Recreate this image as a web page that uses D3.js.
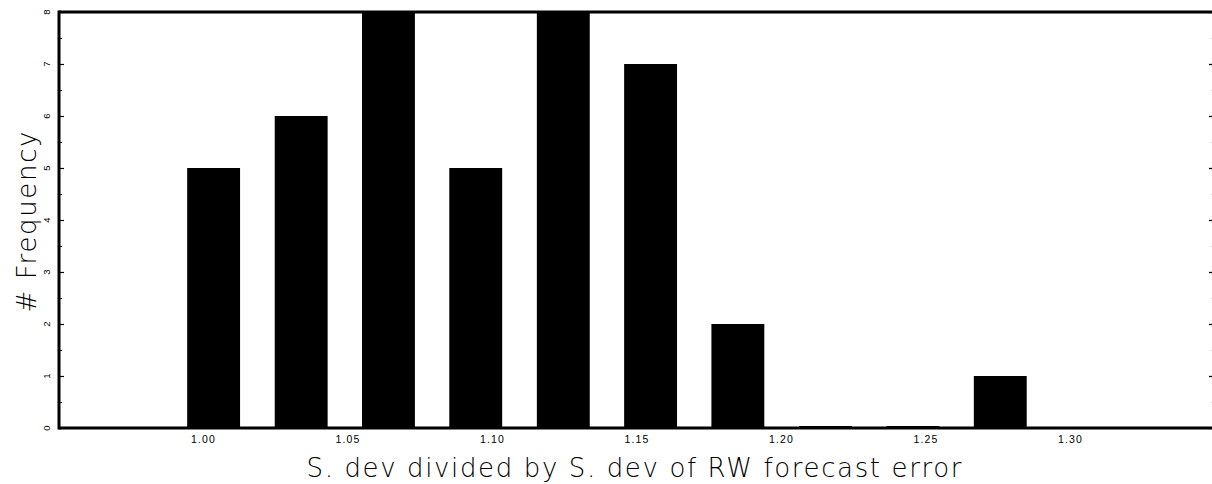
<!DOCTYPE html>
<html>
<head>
<meta charset="utf-8">
<script src="https://cdn.jsdelivr.net/npm/d3@7"></script>
<style>
  html, body { margin: 0; padding: 0; background: #fff; }
  svg { display: block; }
</style>
</head>
<body>
<svg id="chart" width="1212" height="484"></svg>
<script>
// Histogram of the ratio of standard deviations
const binCenters = [1.0035, 1.0338, 1.0640, 1.0942, 1.1245, 1.1547, 1.1849, 1.2152, 1.2455, 1.2757];
const counts     = [5, 6, 8, 5, 8, 7, 2, 0, 0, 1];
const xTickValues = [1.00, 1.05, 1.10, 1.15, 1.20, 1.25, 1.30];
const yTickValues = [0, 1, 2, 3, 4, 5, 6, 7, 8];
const xTitle = "S. dev divided by S. dev of RW forecast error";
const yTitle = "# Frequency";

const svg = d3.select("#chart");
const plot = { left: 59, right: 1215, top: 12, bottom: 428 };

const x = d3.scaleLinear().domain([0.95, 1.35]).range([plot.left, plot.right]);
const y = d3.scaleLinear().domain([0, 8]).range([plot.bottom, plot.top]);

const binStep = binCenters[1] - binCenters[0];
const barW = x(binCenters[0] + binStep * 0.302) - x(binCenters[0] - binStep * 0.302);

// bars (empty bins still leave a thin sliver on the baseline)
svg.append("g").selectAll("rect")
  .data(binCenters.map((c, i) => ({ c, n: counts[i] })))
  .join("rect")
  .attr("x", d => x(d.c) - barW / 2)
  .attr("width", barW)
  .attr("y", d => Math.min(y(d.n), plot.bottom - 2))
  .attr("height", d => Math.max(plot.bottom - y(d.n), 2))
  .attr("fill", "#000");

// left axis: inward ticks, half-unit minors
const minorVals = d3.range(0.5, 8, 1);
const left = svg.append("g").attr("transform", `translate(${plot.left},0)`);
left.call(d3.axisRight(y).tickValues(yTickValues).tickSize(5).tickFormat(""))
  .call(g => g.select(".domain").remove())
  .call(g => g.selectAll("line").attr("stroke", "#000").attr("stroke-width", 1.2));
left.append("g").call(d3.axisRight(y).tickValues(minorVals).tickSize(3).tickFormat(""))
  .call(g => g.select(".domain").remove())
  .call(g => g.selectAll("line").attr("stroke", "#000").attr("stroke-width", 1));

// y tick labels, rotated
svg.append("g").selectAll("text")
  .data(yTickValues)
  .join("text")
  .attr("transform", d => `translate(${50},${y(d)}) rotate(-90)`)
  .attr("text-anchor", "middle")
  .attr("font-family", "Liberation Sans, Arial, sans-serif")
  .attr("font-size", 9.5)
  .attr("fill", "#000")
  .text(d => d);

// right axis ticks
const right = svg.append("g").attr("transform", `translate(${plot.right - 2},0)`);
right.call(d3.axisLeft(y).tickValues(yTickValues).tickSize(4).tickFormat(""))
  .call(g => g.select(".domain").remove())
  .call(g => g.selectAll("line").attr("stroke", "#000").attr("stroke-width", 1.3));
right.append("g").call(d3.axisLeft(y).tickValues(minorVals).tickSize(2).tickFormat(""))
  .call(g => g.select(".domain").remove())
  .call(g => g.selectAll("line").attr("stroke", "#ccc").attr("stroke-width", 1));

// x tick labels (no tick marks)
svg.append("g").selectAll("text")
  .data(xTickValues)
  .join("text")
  .attr("x", d => x(d))
  .attr("y", 443)
  .attr("text-anchor", "middle")
  .attr("font-family", "Liberation Sans, Arial, sans-serif")
  .attr("font-size", 10.5)
  .attr("letter-spacing", 1.2)
  .attr("fill", "#000")
  .text(d => d.toFixed(2));

// frame
const frame = svg.append("g").attr("stroke", "#000").attr("stroke-width", 3).attr("fill", "none");
frame.append("line").attr("x1", plot.left).attr("x2", plot.right).attr("y1", plot.top).attr("y2", plot.top);
frame.append("line").attr("x1", plot.left).attr("x2", plot.right).attr("y1", plot.bottom).attr("y2", plot.bottom);
frame.append("line").attr("x1", plot.left).attr("x2", plot.left).attr("y1", plot.top - 1.5).attr("y2", plot.bottom + 1.5);

// axis titles
svg.append("text")
  .attr("x", 634).attr("y", 477)
  .attr("text-anchor", "middle")
  .attr("font-family", "DejaVu Sans, sans-serif")
  .attr("font-weight", 200)
  .attr("font-size", 26)
  .attr("textLength", 655)
  .attr("lengthAdjust", "spacing")
  .attr("fill", "#000")
  .text(xTitle);

svg.append("text")
  .attr("transform", `translate(36,222) rotate(-90)`)
  .attr("text-anchor", "middle")
  .attr("font-family", "DejaVu Sans, sans-serif")
  .attr("font-weight", 200)
  .attr("font-size", 26)
  .attr("textLength", 181)
  .attr("lengthAdjust", "spacing")
  .attr("fill", "#000")
  .text(yTitle);
</script>
</body>
</html>
